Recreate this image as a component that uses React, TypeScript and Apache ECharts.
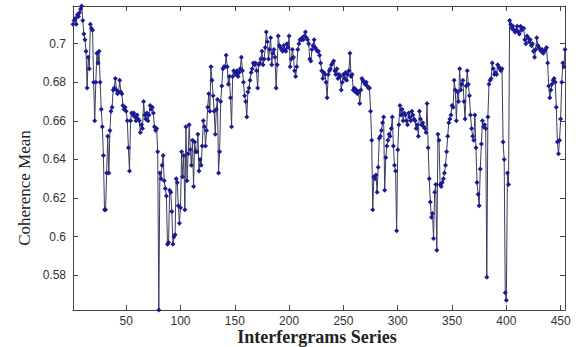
import React, { useEffect, useRef } from "react";
import * as echarts from "echarts";

// Coherence mean per interferogram (index 1..454)
const coherence1: number[] = [
  0.710, 0.712, 0.713, 0.710, 0.715, 0.714, 0.716, 0.718, 0.7195, 0.712,
  0.705, 0.702, 0.696, 0.677, 0.693, 0.687, 0.710, 0.708, 0.707, 0.680,
  0.660, 0.680, 0.695, 0.690, 0.696, 0.680, 0.666, 0.657, 0.642, 0.614,
  0.614, 0.633, 0.652, 0.633, 0.655, 0.665, 0.667, 0.676, 0.677, 0.682,
  0.676, 0.674, 0.675, 0.681, 0.675, 0.674, 0.668, 0.666, 0.667, 0.665,
  0.660, 0.646, 0.634, 0.660, 0.664, 0.663, 0.664, 0.662, 0.660, 0.663,
  0.661, 0.660, 0.654, 0.658, 0.656, 0.670, 0.663, 0.661, 0.664, 0.660,
  0.663, 0.668, 0.666, 0.667, 0.664, 0.657, 0.655, 0.656, 0.644, 0.562,
  0.633, 0.630, 0.637, 0.642, 0.629, 0.625, 0.621, 0.596, 0.597, 0.624,
  0.623, 0.613, 0.596, 0.600, 0.601, 0.630, 0.628, 0.616, 0.607, 0.615,
  0.644, 0.631, 0.642, 0.614, 0.657, 0.629, 0.643, 0.658, 0.645, 0.637,
  0.650, 0.626, 0.649, 0.644, 0.644, 0.653, 0.634, 0.640, 0.637, 0.647,
  0.660, 0.657, 0.647, 0.655, 0.667, 0.674, 0.665, 0.688, 0.681, 0.673,
  0.665, 0.653, 0.666, 0.671, 0.633, 0.644, 0.670, 0.678, 0.687, 0.688,
  0.688, 0.694, 0.688, 0.679, 0.683, 0.672, 0.657, 0.683, 0.686, 0.685,
];
const coherence2: number[] = [
  0.684, 0.686, 0.683, 0.685, 0.687, 0.693, 0.686, 0.680, 0.673, 0.670,
  0.662, 0.675, 0.677, 0.681, 0.685, 0.687, 0.690, 0.689, 0.690, 0.686,
  0.677, 0.689, 0.690, 0.692, 0.696, 0.689, 0.692, 0.698, 0.706, 0.701,
  0.692, 0.697, 0.703, 0.689, 0.695, 0.697, 0.693, 0.677, 0.689, 0.704,
  0.699, 0.698, 0.697, 0.696, 0.699, 0.697, 0.696, 0.700, 0.698, 0.704,
  0.688, 0.692, 0.697, 0.693, 0.686, 0.683, 0.688, 0.697, 0.700, 0.702,
  0.702, 0.703, 0.702, 0.704, 0.706, 0.703, 0.702, 0.700, 0.692, 0.691,
  0.697, 0.699, 0.702, 0.698, 0.697, 0.696, 0.696, 0.694, 0.690, 0.686,
  0.682, 0.685, 0.684, 0.680, 0.672, 0.684, 0.686, 0.687, 0.689, 0.690,
  0.691, 0.686, 0.684, 0.687, 0.682, 0.684, 0.683, 0.676, 0.680, 0.684,
  0.682, 0.685, 0.681, 0.684, 0.686, 0.695, 0.683, 0.684, 0.676, 0.677,
  0.675, 0.676, 0.674, 0.675, 0.669, 0.676, 0.682, 0.681, 0.680, 0.679,
  0.680, 0.678, 0.677, 0.677, 0.665, 0.650, 0.614, 0.631, 0.630, 0.632,
  0.623, 0.636, 0.651, 0.652, 0.655, 0.659, 0.662, 0.624, 0.641, 0.647,
  0.650, 0.653, 0.652, 0.656, 0.662, 0.647, 0.637, 0.634, 0.603, 0.645,
];
const coherence3: number[] = [
  0.658, 0.668, 0.663, 0.666, 0.660, 0.664, 0.663, 0.660, 0.658, 0.664,
  0.662, 0.660, 0.665, 0.663, 0.661, 0.660, 0.656, 0.658, 0.652, 0.665,
  0.661, 0.658, 0.659, 0.657, 0.656, 0.654, 0.669, 0.646, 0.630, 0.618,
  0.610, 0.612, 0.599, 0.623, 0.627, 0.593, 0.653, 0.650, 0.627, 0.626,
  0.628, 0.630, 0.633, 0.637, 0.644, 0.652, 0.659, 0.661, 0.663, 0.668,
  0.667, 0.681, 0.676, 0.660, 0.675, 0.670, 0.687, 0.676, 0.679, 0.681,
  0.670, 0.661, 0.678, 0.686, 0.679, 0.673, 0.663, 0.656, 0.652, 0.650,
  0.663, 0.646, 0.628, 0.622, 0.616, 0.635, 0.648, 0.660, 0.657, 0.658,
  0.656, 0.579, 0.662, 0.679, 0.681, 0.682, 0.690, 0.687, 0.684, 0.685,
  0.684, 0.689, 0.688, 0.687, 0.686, 0.687, 0.649, 0.640, 0.571, 0.567,
  0.633, 0.627, 0.712, 0.710, 0.708, 0.709, 0.707, 0.706, 0.707, 0.709,
  0.706, 0.705, 0.709, 0.707, 0.708, 0.708, 0.702, 0.700, 0.704, 0.703,
  0.701, 0.702, 0.699, 0.700, 0.696, 0.693, 0.697, 0.703, 0.699, 0.698,
  0.697, 0.696, 0.697, 0.695, 0.696, 0.697, 0.698, 0.690, 0.678, 0.672,
  0.676, 0.679, 0.681, 0.682, 0.680, 0.667, 0.649, 0.643, 0.650, 0.661,
  0.680, 0.690, 0.688, 0.697,
];

const coherence: number[] = [...coherence1, ...coherence2, ...coherence3];
const xLabel = "Interfergrams Series";
const yLabel = "Coherence Mean";

export default function App() {
  const ref = useRef<HTMLDivElement>(null);
  useEffect(() => {
    if (!ref.current) return;
    const chart = echarts.init(ref.current, undefined, { renderer: "svg" });
    const data = coherence.map((v, i) => [i + 1, v]);
    const xMin = 1;
    const xMax = coherence.length;
    const yMin = Math.min(...coherence);
    const yMax = Math.max(...coherence);
    const axisLine = { show: true, lineStyle: { color: "#444", width: 1 } };
    const tick = { show: true, inside: true, length: 5, lineStyle: { color: "#444" } };
    const labelStyle = {
      fontFamily: "Liberation Sans",
      fontSize: 12,
      color: "#333",
    };
    chart.setOption({
      animation: false,
      backgroundColor: "#fff",
      grid: { left: 73, right: 13, top: 6, bottom: 37, containLabel: false, outerBoundsMode: "none" },
      xAxis: [
        {
          type: "value",
          min: xMin,
          max: xMax,
          splitNumber: 9,
          axisLine,
          axisTick: tick,
          splitLine: { show: false },
          axisLabel: { ...labelStyle, margin: 5, showMinLabel: false, showMaxLabel: false },
        },
        {
          type: "value",
          position: "top",
          min: xMin,
          max: xMax,
          splitNumber: 9,
          axisLine,
          axisTick: tick,
          splitLine: { show: false },
          axisLabel: { show: false },
        },
      ],
      yAxis: [
        {
          type: "value",
          min: yMin,
          max: yMax,
          splitNumber: 8,
          axisLine,
          axisTick: tick,
          splitLine: { show: false },
          axisLabel: { ...labelStyle, margin: 7, showMinLabel: false, showMaxLabel: false },
        },
        {
          type: "value",
          position: "right",
          min: yMin,
          max: yMax,
          splitNumber: 8,
          axisLine,
          axisTick: tick,
          splitLine: { show: false },
          axisLabel: { show: false },
        },
      ],
      graphic: [
        {
          type: "text",
          x: 24,
          y: 188,
          rotation: Math.PI / 2,
          style: {
            text: yLabel,
            fontFamily: "Liberation Serif",
            fontSize: 17,
            fill: "#222",
            align: "center",
            verticalAlign: "middle",
          },
        },
        {
          type: "text",
          x: 317,
          y: 337,
          style: {
            text: xLabel,
            fontFamily: "Liberation Serif",
            fontWeight: "bold",
            fontSize: 18,
            fill: "#222",
            align: "center",
            verticalAlign: "middle",
          },
        },
      ],
      series: [
        {
          type: "line",
          xAxisIndex: 0,
          yAxisIndex: 0,
          data,
          symbol: "diamond",
          symbolSize: 5,
          showAllSymbol: true,
          lineStyle: { color: "#3c3c5c", width: 1 },
          itemStyle: { color: "#1a1a96" },
        },
      ],
    });
    return () => chart.dispose();
  }, []);
  return <div ref={ref} style={{ width: 578, height: 347, position: "absolute", left: 0, top: 0 }} />;
}
